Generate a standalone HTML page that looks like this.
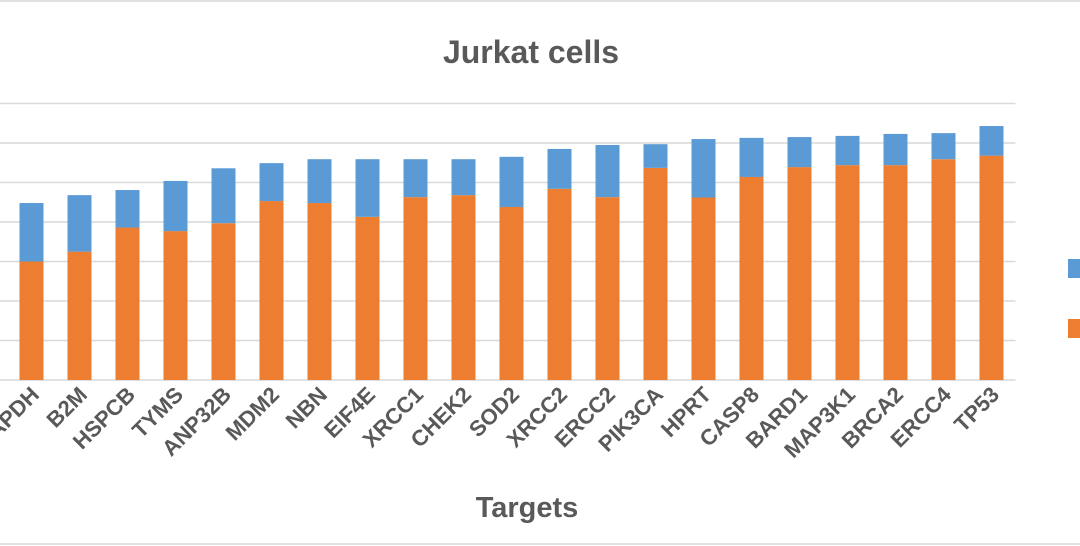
<!DOCTYPE html>
<html><head><meta charset="utf-8"><style>
body{margin:0;background:#fff;}
svg{display:block;font-family:"Liberation Sans",Arial,sans-serif;}
</style></head><body>
<svg id="chart" width="1080" height="546" viewBox="0 0 1080 546" xmlns="http://www.w3.org/2000/svg">
<rect x="-2" y="1" width="1100" height="543" fill="#fff" stroke="#d9d9d9" stroke-width="1.5"/>
<text x="531" y="63" text-anchor="middle" font-size="32" font-weight="bold" fill="#595959">Jurkat cells</text>
<g id="grid"></g>
<g id="bars"></g>
<g id="xlabels"></g>
<text x="527" y="517" text-anchor="middle" font-size="29" font-weight="bold" fill="#595959">Targets</text>
<rect x="1068" y="259" width="20" height="19" fill="#5b9bd5"/>
<rect x="1068" y="319" width="20" height="19" fill="#ed7d31"/>
</svg>
<script>
const categories=["GAPDH","B2M","HSPCB","TYMS","ANP32B","MDM2","NBN","EIF4E","XRCC1","CHEK2","SOD2","XRCC2","ERCC2","PIK3CA","HPRT","CASP8","BARD1","MAP3K1","BRCA2","ERCC4","TP53"];
const orangeValues=[3.0,3.25,3.86,3.77,3.97,4.53,4.48,4.13,4.63,4.68,4.38,4.84,4.63,5.37,4.62,5.14,5.39,5.44,5.44,5.59,5.68];
const blueValues=[1.48,1.43,0.95,1.27,1.39,0.96,1.11,1.46,0.96,0.91,1.27,1.01,1.32,0.60,1.48,0.99,0.76,0.74,0.79,0.66,0.75];
const yTicks=[0,1,2,3,4,5,6,7];
const NS="http://www.w3.org/2000/svg";
const plotLeft=7.5,plotRight=1015.5,baseY=380,unitPx=39.5;
const band=(plotRight-plotLeft)/categories.length;
const xCenter=i=>plotLeft+band*(i+0.5);
const yPos=v=>baseY-v*unitPx;
const grid=document.getElementById('grid'),bars=document.getElementById('bars'),xl=document.getElementById('xlabels');
yTicks.forEach(t=>{
  const l=document.createElementNS(NS,'line');
  
  
  l.setAttribute('x1',0);l.setAttribute('x2',plotRight);
  l.setAttribute('y1',yPos(t));l.setAttribute('y2',yPos(t));
  l.setAttribute('stroke','#d9d9d9');l.setAttribute('stroke-width','1.5');
  grid.appendChild(l);
});
const bw=24;
categories.forEach((c,i)=>{
  const cx=xCenter(i);
  const o=document.createElementNS(NS,'rect');
  
  
  o.setAttribute('x',cx-bw/2);o.setAttribute('width',bw);
  o.setAttribute('y',yPos(orangeValues[i]));o.setAttribute('height',orangeValues[i]*unitPx);
  o.setAttribute('fill','#ed7d31');bars.appendChild(o);
  const b=document.createElementNS(NS,'rect');
  
  
  b.setAttribute('x',cx-bw/2);b.setAttribute('width',bw);
  b.setAttribute('y',yPos(orangeValues[i]+blueValues[i]));b.setAttribute('height',blueValues[i]*unitPx);
  b.setAttribute('fill','#5b9bd5');bars.appendChild(b);
  const t=document.createElementNS(NS,'text');
  
  
  const tx=cx+9,ty=396;
  t.setAttribute('x',tx);t.setAttribute('y',ty);
  t.setAttribute('transform','rotate(-45 '+tx+' '+ty+')');
  t.setAttribute('text-anchor','end');t.setAttribute('font-size','22');
  t.setAttribute('font-weight','bold');t.setAttribute('fill','#595959');
  t.textContent=c;xl.appendChild(t);
});
</script>
</body></html>
